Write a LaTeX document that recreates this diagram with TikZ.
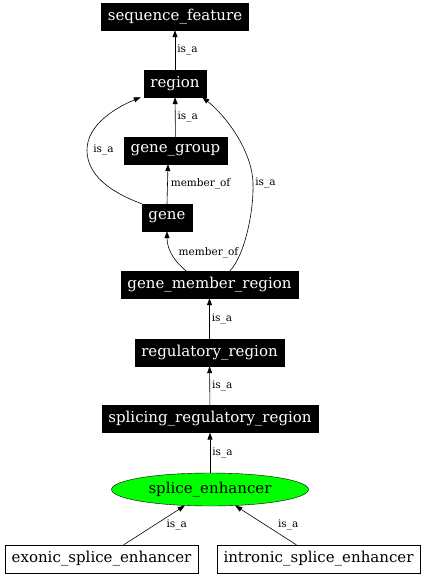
\documentclass[tikz,border=0pt]{standalone}
\usepackage{fontspec}
\setmainfont{DejaVu Serif}
\usepackage{tikz}
\usetikzlibrary{arrows.meta}
\usetikzlibrary{shapes.geometric}
\tikzset{>={Triangle[length=7pt, width=5pt]}}
\newcommand{\termfont}{\fontsize{15}{18}\selectfont}
\newcommand{\relfont}{\fontsize{10.5}{12}\selectfont}
\tikzstyle{term} = [rectangle, draw=black, fill=black, text=white, font=\termfont, minimum height=27pt, inner xsep=6.5pt, inner ysep=0pt]
\tikzstyle{leaf} = [rectangle, draw=black, fill=white, font=\termfont, minimum height=28pt, inner xsep=6.5pt, inner ysep=0pt]
\tikzstyle{focus} = [ellipse, draw=black, fill=green, font=\termfont, minimum width=197pt, minimum height=33pt, inner sep=0pt]
\tikzstyle{rel} = [draw=none, font=\relfont, inner sep=2pt]
\tikzstyle{edge} = [->, line width=0.6pt, draw=black]

\begin{document}
\begin{tikzpicture}[x=1pt, y=-1pt]
\useasboundingbox (0, 0) rectangle (426, 576);
%\node [draw=none] at (213, 0) {};
\node [term] (SF) at (175, 16.5) {sequence\_feature};
\node [term] (R) at (175, 83.5) {region};
\node [term] (GG) at (175.5, 150.5) {gene\_group};
\node [term] (G) at (167, 217.5) {gene};
\node [term] (GMR) at (209.5, 284.5) {gene\_member\_region};
\node [term] (RR) at (209.5, 352.5) {regulatory\_region};
\node [term] (SRR) at (210, 419) {splicing\_regulatory\_region};
\node [focus] (SE) at (210, 489.5) {splice\_enhancer};
\node [leaf] (ESE) at (101.5, 559) {exonic\_splice\_enhancer};
\node [leaf] (ISE) at (318.5, 559) {intronic\_splice\_enhancer};
\draw [edge] (R) to node[rel, right] {is\_a} (SF);
\draw [edge] (GG) to node[rel, right] {is\_a} (R);
\draw [edge] (G.north west) .. controls (110, 192) and (87, 175) .. (87, 150) node[rel, right, xshift=4pt] {is\_a}
  .. controls (87, 125) and (115, 108) .. ([xshift=-3pt]R.south west);
\draw [edge] (G.north) to node[rel, right, pos=0.5, xshift=1pt] {member\_of} ([xshift=-7.5pt]GG.south);
\draw [edge] ([xshift=-23.5pt]GMR.north) .. controls (175, 262) and (167, 250) .. node[rel, right, pos=0.55, xshift=5pt] {member\_of} (G.south);
\draw [edge] ([xshift=20.5pt]GMR.north) .. controls (245, 255) and (254, 210) .. (253, 183) node[rel, right] {is\_a}
  .. controls (252, 150) and (225, 115) .. ([xshift=-4pt]R.south east);
\draw [edge] (RR) to node[rel, right] {is\_a} (GMR);
\draw [edge] (SRR) to node[rel, right] {is\_a} (RR);
\draw [edge] (SE) to node[rel, right] {is\_a} (SRR);
\draw [edge] (ESE) to node[rel, right=10pt] {is\_a} (SE);
\draw [edge] (ISE) to node[rel, right=10pt] {is\_a} (SE);
\end{tikzpicture}
\end{document}
